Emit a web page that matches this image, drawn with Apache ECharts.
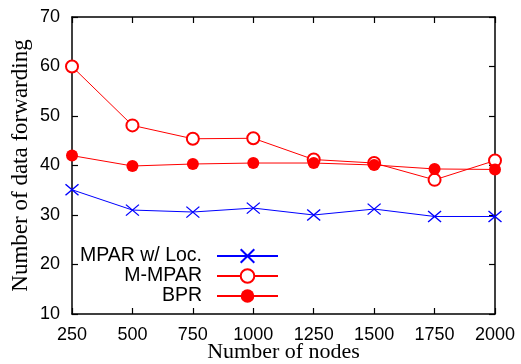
<!DOCTYPE html>
<html><head><meta charset="utf-8">
<script src="https://cdn.jsdelivr.net/npm/echarts@6/dist/echarts.min.js"></script>
<style>html,body{margin:0;padding:0;background:#fff}#c{width:521px;height:364px}</style>
</head><body><div id="c"></div>
<script>
const nodes = [250, 500, 750, 1000, 1250, 1500, 1750, 2000];
const mparLoc = [35.1, 31.0, 30.6, 31.4, 30.0, 31.2, 29.7, 29.7];
const mMpar = [60.0, 48.1, 45.4, 45.5, 41.2, 40.5, 37.1, 41.0];
const bpr = [42.0, 39.9, 40.3, 40.5, 40.5, 40.1, 39.3, 39.2];
const seriesNames = ['MPAR w/ Loc.', 'M-MPAR', 'BPR'];

const pair = arr => nodes.map((n, i) => [n, arr[i]]);
const sans = 'Liberation Sans, Arial, sans-serif';
const serif = 'Liberation Serif, Times New Roman, serif';
const axisLine = {show: true, lineStyle: {color: '#000', width: 1.5}};
const ticksIn = {show: true, inside: true, length: 6, lineStyle: {color: '#000', width: 1.2}};
const plain = v => String(v);

const chart = echarts.init(document.getElementById('c'), null, {renderer: 'canvas'});
const legendRows = [246, 266, 286];
chart.setOption({
  animation: false,
  backgroundColor: '#fff',
  grid: {left: 72, right: 26, top: 17, bottom: 50, containLabel: false, outerBoundsMode: 'none'},
  xAxis: [{
    type: 'value', min: 250, max: 2000, interval: 250, position: 'bottom',
    axisLine: axisLine, axisTick: ticksIn, splitLine: {show: false},
    axisLabel: {color: '#000', fontFamily: sans, fontSize: 18, margin: 12, formatter: plain},
    name: 'Number of nodes', nameLocation: 'middle', nameGap: 27, nameMoveOverlap: false,
    nameTextStyle: {color: '#000', fontFamily: serif, fontSize: 22}
  }, {
    type: 'value', min: 250, max: 2000, interval: 250, position: 'top',
    axisLine: axisLine, axisTick: ticksIn, splitLine: {show: false}, axisLabel: {show: false}
  }],
  yAxis: [{
    type: 'value', min: 10, max: 70, interval: 10, position: 'left',
    axisLine: axisLine, axisTick: ticksIn, splitLine: {show: false},
    axisLabel: {color: '#000', fontFamily: sans, fontSize: 18, margin: 12, formatter: plain},
    name: 'Number of data forwarding', nameLocation: 'middle', nameGap: 40, nameMoveOverlap: false,
    nameTextStyle: {color: '#000', fontFamily: serif, fontSize: 23}
  }, {
    type: 'value', min: 10, max: 70, interval: 10, position: 'right',
    axisLine: axisLine, axisTick: ticksIn, splitLine: {show: false}, axisLabel: {show: false}
  }],
  legend: seriesNames.map((nm, i) => ({
    data: [nm], orient: 'vertical', align: 'right', right: 242, top: legendRows[i],
    itemWidth: 61, itemHeight: 17, padding: 0, selectedMode: false,
    textStyle: {color: '#000', fontFamily: sans, fontSize: 19.5, padding: [0, 10, 0, 0]}
  })),
  series: [{
    name: seriesNames[0], type: 'line', data: pair(mparLoc),
    symbol: 'path://M0,0L10,10M10,0L0,10', symbolSize: [13, 11], symbolKeepAspect: false,
    lineStyle: {color: '#0000ff', width: 1},
    itemStyle: {color: '#0000ff', borderColor: '#0000ff', borderWidth: 1.2}
  }, {
    name: seriesNames[1], type: 'line', data: pair(mMpar),
    symbol: 'emptyCircle', symbolSize: 12,
    lineStyle: {color: '#ff0000', width: 1},
    itemStyle: {color: '#ff0000', borderColor: '#ff0000', borderWidth: 1}
  }, {
    name: seriesNames[2], type: 'line', data: pair(bpr),
    symbol: 'circle', symbolSize: 12,
    lineStyle: {color: '#ff0000', width: 1},
    itemStyle: {color: '#ff0000', borderColor: '#ff0000', borderWidth: 0}
  }]
});
</script></body></html>
